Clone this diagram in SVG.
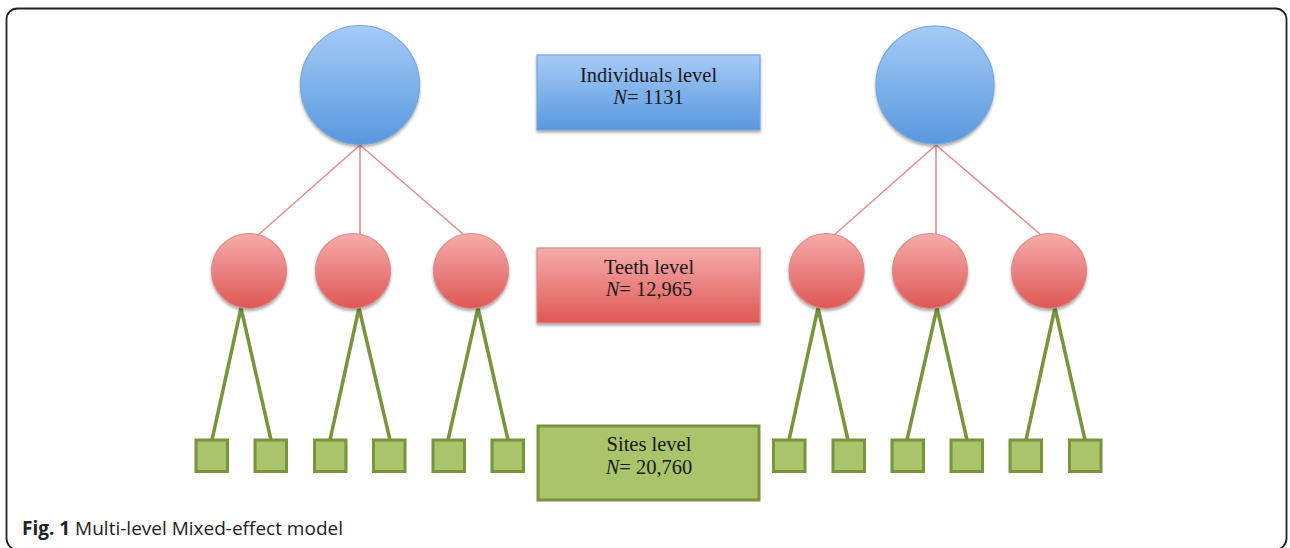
<svg xmlns="http://www.w3.org/2000/svg" width="1290" height="548" viewBox="0 0 1290 548">
<defs>
<linearGradient id="gBlue" x1="0" y1="0" x2="0" y2="1"><stop offset="0" stop-color="#a6cbf7"/><stop offset="1" stop-color="#5898de"/></linearGradient>
<linearGradient id="gRed" x1="0" y1="0" x2="0" y2="1"><stop offset="0" stop-color="#f6acab"/><stop offset="1" stop-color="#de5754"/></linearGradient>
<filter id="sh" x="-20%" y="-20%" width="140%" height="150%"><feGaussianBlur in="SourceAlpha" stdDeviation="1.5"/><feOffset dy="2" result="b"/><feComponentTransfer><feFuncA type="linear" slope="0.35"/></feComponentTransfer><feMerge><feMergeNode/><feMergeNode in="SourceGraphic"/></feMerge></filter>
<style>
.blue{fill:url(#gBlue);stroke:#78a6dc;stroke-width:1.2;filter:url(#sh)}
.red{fill:url(#gRed);stroke:#d98c8a;stroke-width:1.2;filter:url(#sh)}
.site{fill:#a9c46a;stroke:#78943d;stroke-width:3}
.pink{stroke:#e0908e;stroke-width:1.6;fill:none}
.grn{stroke:#78943d;stroke-width:3.5;fill:none}
.lbl{font-family:"Liberation Serif",serif;font-size:20.5px;fill:#1a1a1a;text-anchor:middle}
.cap{font-family:"Open Sans","Liberation Sans",sans-serif;font-size:19px;fill:#222}
</style>
</defs>
<rect x="6.5" y="8.5" width="1280" height="541" rx="11" fill="none" stroke="#222" stroke-width="1.8"/>
<g id="connectors">
<line class="pink" x1="360" y1="145" x2="257" y2="236"/>
<line class="pink" x1="360" y1="145" x2="360" y2="234"/>
<line class="pink" x1="360" y1="145" x2="463" y2="234"/>
<line class="pink" x1="936" y1="145" x2="833" y2="236"/>
<line class="pink" x1="936" y1="145" x2="936" y2="234"/>
<line class="pink" x1="936" y1="145" x2="1040" y2="234"/>
<polyline class="grn" points="212,440 241,308 271,440"/>
<polyline class="grn" points="330,440 359,308 390,440"/>
<polyline class="grn" points="448,440 478,308 508,440"/>
<polyline class="grn" points="789,440 818,308 848,440"/>
<polyline class="grn" points="907,440 937,308 967,440"/>
<polyline class="grn" points="1026,440 1055,308 1085,440"/>
</g>
<g id="ind-left"><circle class="blue" cx="360" cy="85" r="59.5"/></g>
<g id="ind-right"><circle class="blue" cx="935" cy="85" r="59"/></g>
<g id="ind-label"><rect class="blue" x="537" y="55" width="223" height="75"/>
<text class="lbl" x="648.5" y="82">Individuals level</text>
<text class="lbl" x="648.5" y="104"><tspan font-style="italic">N</tspan>= 1131</text></g>
<g id="tooth-l1"><circle class="red" cx="249" cy="271" r="37.5"/></g>
<g id="tooth-l2"><circle class="red" cx="353" cy="271" r="37.5"/></g>
<g id="tooth-l3"><circle class="red" cx="471" cy="271" r="37.5"/></g>
<g id="tooth-r1"><circle class="red" cx="826.5" cy="271" r="37.5"/></g>
<g id="tooth-r2"><circle class="red" cx="930" cy="271" r="37.5"/></g>
<g id="tooth-r3"><circle class="red" cx="1049" cy="271" r="37.5"/></g>
<g id="teeth-label"><rect class="red" x="537" y="248" width="223" height="75"/>
<text class="lbl" x="649" y="274">Teeth level</text>
<text class="lbl" x="649" y="296"><tspan font-style="italic">N</tspan>= 12,965</text></g>
<g id="sites-left">
<rect class="site" x="196" y="440" width="31.5" height="31.5"/>
<rect class="site" x="255" y="440" width="31.5" height="31.5"/>
<rect class="site" x="314.5" y="440" width="31.5" height="31.5"/>
<rect class="site" x="373.5" y="440" width="31.5" height="31.5"/>
<rect class="site" x="433" y="440" width="31.5" height="31.5"/>
<rect class="site" x="492" y="440" width="31.5" height="31.5"/>
</g>
<g id="sites-right">
<rect class="site" x="773.5" y="440" width="31.5" height="31.5"/>
<rect class="site" x="833" y="440" width="31.5" height="31.5"/>
<rect class="site" x="892" y="440" width="31.5" height="31.5"/>
<rect class="site" x="951" y="440" width="31.5" height="31.5"/>
<rect class="site" x="1010" y="440" width="31.5" height="31.5"/>
<rect class="site" x="1069.5" y="440" width="31.5" height="31.5"/>
</g>
<g id="sites-label"><rect class="site" x="538" y="426" width="221" height="74"/>
<text class="lbl" x="649" y="451">Sites level</text>
<text class="lbl" x="649" y="474"><tspan font-style="italic">N</tspan>= 20,760</text></g>
<text class="cap" x="22" y="534.5"><tspan font-weight="bold">Fig. 1</tspan> Multi-level Mixed-effect model</text>
</svg>
